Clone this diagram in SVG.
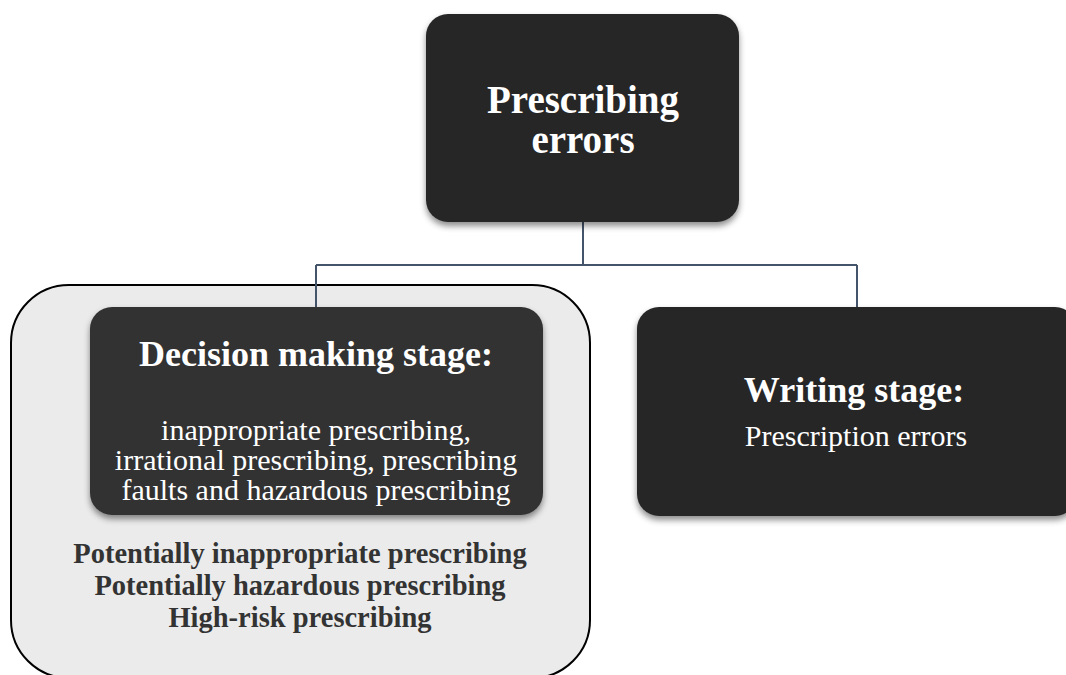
<svg xmlns="http://www.w3.org/2000/svg" width="1066" height="675" viewBox="0 0 1066 675">
<defs>
<filter id="sh" x="-10%" y="-10%" width="120%" height="125%">
<feDropShadow dx="0" dy="4" stdDeviation="3" flood-color="#000" flood-opacity="0.45"/>
</filter>
<style>
.box{fill:#262626;filter:url(#sh);}
.t{font-family:"Liberation Serif","Times New Roman",serif;text-anchor:middle;fill:#fff;}
.b{font-weight:bold;}
.conn{fill:none;stroke:#44546a;stroke-width:2;}
.list{font-family:"Liberation Serif","Times New Roman",serif;text-anchor:middle;fill:#333;font-weight:bold;font-size:28.5px;}
</style>
</defs>
<rect width="1066" height="675" fill="#fff"/>
<g id="container">
<rect x="11" y="285" width="579" height="393" rx="58" fill="#ebebeb" stroke="#000" stroke-width="2"/>
</g>
<g id="connectors">
<path class="conn" d="M583 222 V265 M316 265 H857 M316 265 V308 M857 265 V308"/>
</g>
<g id="top">
<rect class="box" x="426" y="14" width="313" height="208" rx="22"/>
<text class="t b" x="583" y="113" font-size="39">Prescribing</text>
<text class="t b" x="583" y="153" font-size="39">errors</text>
</g>
<g id="decision">
<rect class="box" x="90" y="307" width="453" height="208" rx="22" style="fill:#333"/>
<text class="t b" x="316" y="366" font-size="36">Decision making stage:</text>
<text class="t" x="316" y="440" font-size="30">inappropriate prescribing,</text>
<text class="t" x="316" y="470" font-size="30">irrational prescribing, prescribing</text>
<text class="t" x="316" y="500" font-size="30">faults and hazardous prescribing</text>
</g>
<g id="writing">
<rect class="box" x="637" y="307" width="440" height="209" rx="22"/>
<text class="t b" x="854" y="402" font-size="36">Writing stage:</text>
<text class="t" x="856" y="446" font-size="30">Prescription errors</text>
</g>
<g id="list">
<text class="list" x="300" y="563">Potentially inappropriate prescribing</text>
<text class="list" x="300" y="595">Potentially hazardous prescribing</text>
<text class="list" x="300" y="627">High-risk prescribing</text>
</g>
</svg>
